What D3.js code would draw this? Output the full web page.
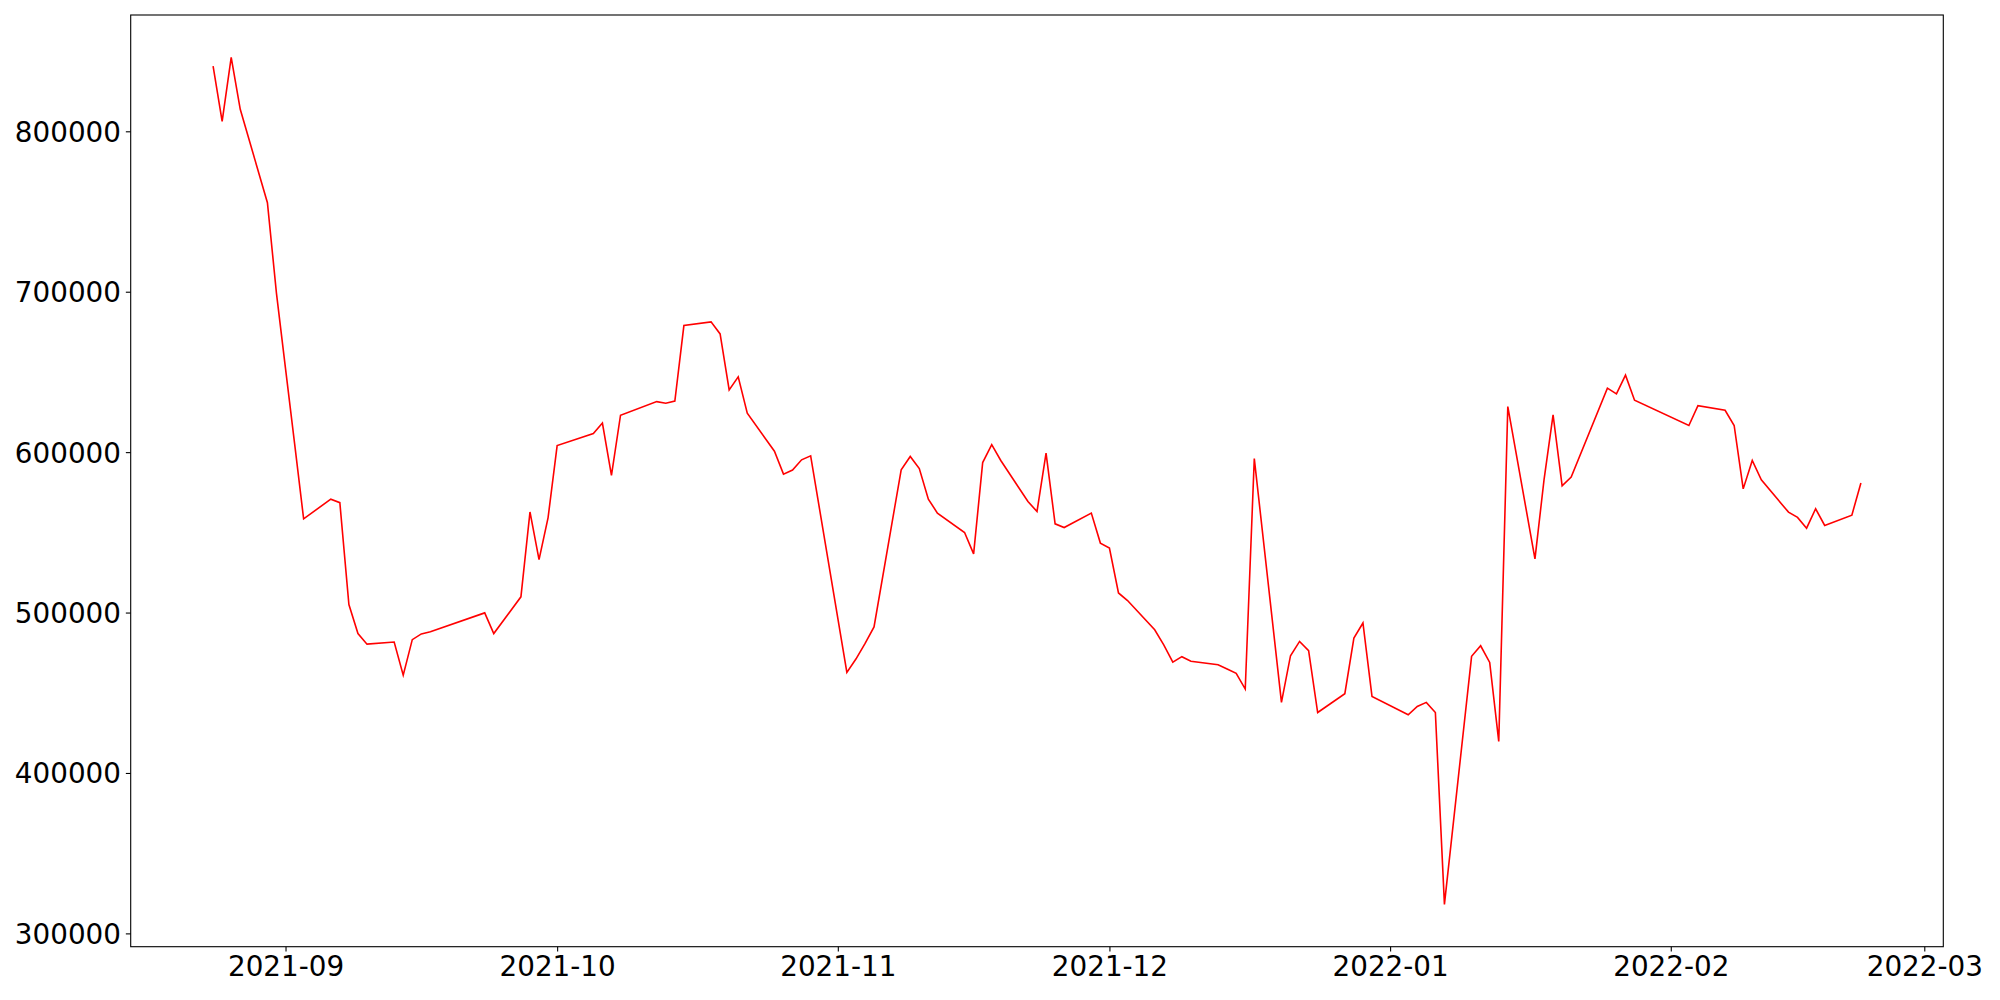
<!DOCTYPE html>
<html>
<head>
<meta charset="utf-8">
<script src="https://cdn.jsdelivr.net/npm/d3@7"></script>
<style>
  body { margin: 0; background: #fff; }
  text { font-family: "DejaVu Sans", sans-serif; }
</style>
</head>
<body>
<div id="chart"></div>
<script>
// trading days (gaps = weekends / holidays)
const dates = [
  "2021-08-24","2021-08-25","2021-08-26","2021-08-27","2021-08-30","2021-08-31",
  "2021-09-01","2021-09-02","2021-09-03","2021-09-06","2021-09-07","2021-09-08",
  "2021-09-09","2021-09-10","2021-09-13","2021-09-14","2021-09-15","2021-09-16",
  "2021-09-17","2021-09-23","2021-09-24","2021-09-27","2021-09-28","2021-09-29",
  "2021-09-30","2021-10-01","2021-10-05","2021-10-06","2021-10-07","2021-10-08",
  "2021-10-12","2021-10-13","2021-10-14","2021-10-15","2021-10-18","2021-10-19",
  "2021-10-20","2021-10-21","2021-10-22","2021-10-25","2021-10-26","2021-10-27",
  "2021-10-28","2021-10-29","2021-11-02","2021-11-03","2021-11-04","2021-11-05",
  "2021-11-08","2021-11-09","2021-11-10","2021-11-11","2021-11-12","2021-11-15",
  "2021-11-16","2021-11-17","2021-11-18","2021-11-19","2021-11-22","2021-11-23",
  "2021-11-24","2021-11-25","2021-11-26","2021-11-29","2021-11-30","2021-12-01",
  "2021-12-02","2021-12-03","2021-12-06","2021-12-07","2021-12-08","2021-12-09",
  "2021-12-10","2021-12-13","2021-12-14","2021-12-15","2021-12-16","2021-12-17",
  "2021-12-20","2021-12-21","2021-12-22","2021-12-23","2021-12-24","2021-12-27",
  "2021-12-28","2021-12-29","2021-12-30","2022-01-03","2022-01-04","2022-01-05",
  "2022-01-06","2022-01-07","2022-01-10","2022-01-11","2022-01-12","2022-01-13",
  "2022-01-14","2022-01-17","2022-01-18","2022-01-19","2022-01-20","2022-01-21",
  "2022-01-25","2022-01-26","2022-01-27","2022-01-28","2022-02-03","2022-02-04",
  "2022-02-07","2022-02-08","2022-02-09","2022-02-10","2022-02-11","2022-02-14",
  "2022-02-15","2022-02-16","2022-02-17","2022-02-18","2022-02-21","2022-02-22"
];

const values = [
  840700, 806200, 846100, 813700, 755500, 699000,
  652000, 605500, 558400, 570700, 568500, 505000,
  486900, 480300, 481600, 461000, 483100, 486700,
  488000, 499800, 486900, 509800, 562700, 533000,
  559200, 604100, 611600, 618100, 585500, 623000,
  631500, 630500, 631800, 678900, 681200, 673700,
  638800, 646900, 624300, 600600, 586300, 588800,
  595200, 597700, 462700, 471000, 480600, 491000,
  589000, 597300, 589800, 570700, 562000, 549900,
  536600, 593500, 604700, 594800, 569200, 563000,
  599400, 555300, 553000, 562000, 543300, 540200,
  512200, 507500, 489300, 479900, 469100, 472500,
  469600, 467500, 464800, 462100, 452300, 596000,
  444000, 473100, 482000, 476200, 437700, 449400,
  484100, 493500, 447700, 436300, 441500, 444000,
  437700, 318100, 472700, 479300, 468900, 419700,
  628400, 533500, 582700, 623200, 579000, 584400,
  639900, 636300, 648000, 632400, 616600, 629000,
  626100, 616600, 577100, 594800, 582700, 562600,
  559300, 552600, 564700, 554300, 560700, 580800
];

const yTicks = [300000, 400000, 500000, 600000, 700000, 800000];

const width = 2000, height = 1000;
const margin = { left: 130.7, right: 1943.3, top: 15, bottom: 946.7 };
const tickLen = 4.86, tickPad = 4.86;

const parse = d3.utcParse("%Y-%m-%d");
const data = dates.map((d, i) => ({ date: parse(d), value: values[i] }));

// поля по 5%, как в matplotlib
let [x0, x1] = d3.extent(data, d => +d.date);
let xm = (x1 - x0) * 0.05;
let [y0, y1] = d3.extent(data, d => d.value);
let ym = (y1 - y0) * 0.05;

const x = d3.scaleUtc().domain([new Date(x0 - xm), new Date(x1 + xm)])
  .range([margin.left, margin.right]);
const y = d3.scaleLinear().domain([y0 - ym, y1 + ym])
  .range([margin.bottom, margin.top]);

const svg = d3.select("#chart").append("svg")
  .attr("width", width).attr("height", height);

svg.append("rect").attr("width", width).attr("height", height).attr("fill", "#fff");

// линия
const line = d3.line().x(d => x(d.date)).y(d => y(d.value));
svg.append("path").datum(data)
  .attr("d", line)
  .attr("fill", "none")
  .attr("stroke", "#ff0000")
  .attr("stroke-width", 1.6);

// оси
const xAxis = svg.append("g").attr("transform", `translate(0,${margin.bottom})`)
  .call(d3.axisBottom(x).ticks(d3.utcMonth.every(1)).tickFormat(d3.utcFormat("%Y-%m"))
    .tickSizeInner(tickLen).tickSizeOuter(0).tickPadding(tickPad));
const yAxis = svg.append("g").attr("transform", `translate(${margin.left},0)`)
  .call(d3.axisLeft(y).tickValues(yTicks).tickFormat(d3.format("d"))
    .tickSizeInner(tickLen).tickSizeOuter(0).tickPadding(tickPad));

[xAxis, yAxis].forEach(g => {
  g.select(".domain").remove();
  g.selectAll("line").attr("stroke", "#000").attr("stroke-width", 1.1);
  g.selectAll("text").attr("fill", "#000").style("font-size", "27.8px")
    .style("font-family", "'DejaVu Sans', sans-serif");
});
yAxis.selectAll("text").attr("dy", "0.36em");

// рамка
svg.append("rect")
  .attr("x", margin.left).attr("y", margin.top)
  .attr("width", margin.right - margin.left).attr("height", margin.bottom - margin.top)
  .attr("fill", "none").attr("stroke", "#000").attr("stroke-width", 1.1);
</script>
</body>
</html>
